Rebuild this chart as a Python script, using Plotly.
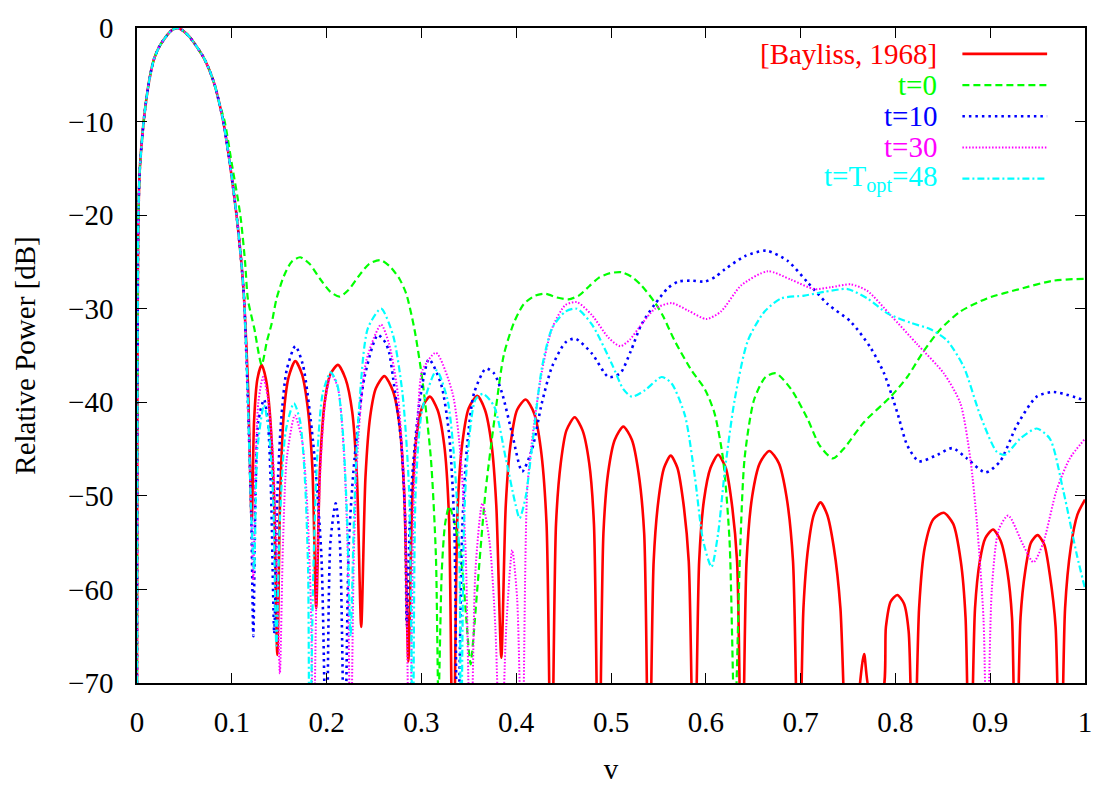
import plotly.graph_objects as go

# ---------------- data (v, relative power dB) ----------------
main_lobe = [(0.0, -70), (0.0004, -40), (0.001, -25), (0.0015, -20), (0.003, -15), (0.007, -10),
             (0.010, -7.5), (0.014, -5), (0.018, -3.3), (0.0235, -2), (0.030, -1), (0.036, -0.3),
             (0.042, 0), (0.048, -0.25), (0.055, -0.9), (0.063, -2), (0.070, -3.1), (0.076, -4.4),
             (0.082, -6.1), (0.087, -8.1)]

bayliss = [(0.091, -10), (0.098, -14.5), (0.105, -20), (0.110, -25), (0.113, -29), (0.117, -38),
           (0.121, -52.6), (0.1235, -42), (0.127, -37.5), (0.1315, -36), (0.136, -37.5), (0.140, -41),
           (0.1445, -50), (0.148, -67), (0.151, -50), (0.155, -41), (0.160, -37.3), (0.167, -35.6),
           (0.174, -37), (0.180, -40.5), (0.185, -47), (0.189, -62), (0.193, -47), (0.198, -40),
           (0.204, -37), (0.212, -36), (0.220, -37.5), (0.227, -41), (0.232, -48), (0.2365, -64),
           (0.241, -48), (0.246, -41.5), (0.252, -38.5), (0.261, -37.2), (0.270, -38.8), (0.277, -42.5),
           (0.282, -50), (0.2862, -67.7), (0.2905, -50), (0.295, -43.5), (0.301, -40.5), (0.309, -39.4),
           (0.317, -40.8), (0.324, -44.5), (0.329, -52), (0.3335, -85), (0.338, -52), (0.343, -44.5),
           (0.350, -40.6), (0.359, -39.3), (0.367, -40.8), (0.374, -44.5), (0.379, -51), (0.3843, -67.3),
           (0.389, -51), (0.394, -44.5), (0.401, -40.8), (0.410, -39.7), (0.419, -41.2), (0.426, -45),
           (0.432, -53), (0.437, -85), (0.442, -53), (0.447, -46.5), (0.453, -43), (0.4617, -41.6),
           (0.470, -43), (0.477, -46.5), (0.482, -53), (0.487, -85), (0.492, -54), (0.497, -47.5),
           (0.504, -44), (0.513, -42.6), (0.522, -44), (0.529, -47.5), (0.535, -54), (0.540, -85),
           (0.545, -57), (0.550, -50.5), (0.556, -47), (0.563, -45.7), (0.570, -47), (0.576, -50.5),
           (0.582, -57), (0.5877, -85), (0.593, -57), (0.598, -50.5), (0.605, -47), (0.613, -45.6),
           (0.621, -47), (0.627, -50.5), (0.633, -57), (0.638, -85), (0.643, -57), (0.649, -50),
           (0.657, -46.5), (0.667, -45.2), (0.677, -46.5), (0.685, -50), (0.692, -57), (0.698, -85),
           (0.703, -62), (0.708, -55.5), (0.714, -52), (0.721, -50.7), (0.728, -52), (0.735, -55.5),
           (0.742, -62), (0.751, -85), (0.7617, -71), (0.767, -66.9), (0.7733, -71), (0.786, -71),
           (0.790, -64), (0.795, -61.3), (0.802, -60.6), (0.809, -61.5), (0.814, -64.5), (0.819, -85),
           (0.825, -62), (0.831, -55.5), (0.840, -52.5), (0.851, -51.8), (0.861, -53), (0.869, -57),
           (0.874, -63), (0.8785, -85), (0.884, -62), (0.889, -57), (0.895, -54.5), (0.903, -53.6),
           (0.911, -54.8), (0.918, -58), (0.923, -63), (0.927, -85), (0.932, -63), (0.937, -58),
           (0.943, -55), (0.950, -54.2), (0.957, -55.2), (0.963, -58.5), (0.969, -64), (0.974, -85),
           (0.979, -62), (0.985, -55.5), (0.992, -52), (1.0, -50.4)]

t0 = [(0.0925, -10), (0.100, -14.5), (0.109, -20), (0.114, -25), (0.117, -29), (0.1237, -32.1),
      (0.1315, -36), (0.137, -33.5), (0.142, -31.6), (0.147, -29), (0.155, -26.5), (0.163, -25),
      (0.172, -24.5), (0.182, -25.2), (0.193, -26.8), (0.204, -28.2), (0.2137, -28.7), (0.223, -28),
      (0.234, -26.5), (0.245, -25.2), (0.2568, -24.8), (0.267, -25.5), (0.2768, -26.8), (0.284, -28.4),
      (0.2925, -32.1), (0.301, -37.6), (0.310, -46), (0.3153, -56.4), (0.318, -72), (0.3215, -58),
      (0.325, -53), (0.3293, -51.1), (0.334, -52.5), (0.3416, -56.4), (0.3503, -66.8), (0.352, -68),
      (0.355, -65), (0.359, -59.9), (0.3678, -49.4), (0.3784, -40.8), (0.387, -34.9), (0.3976, -31.5),
      (0.408, -29.5), (0.420, -28.6), (0.431, -28.4), (0.443, -28.8), (0.455, -29), (0.466, -28.6),
      (0.477, -27.6), (0.487, -26.7), (0.499, -26.2), (0.511, -26.1), (0.522, -26.6), (0.532, -27.5),
      (0.546, -29.3), (0.555, -30.8), (0.567, -33.4), (0.585, -36.6), (0.599, -38.6), (0.609, -41.1),
      (0.618, -45.9), (0.625, -54.7), (0.6305, -75), (0.636, -56.4), (0.641, -45.9), (0.651, -39.7),
      (0.663, -37.3), (0.674, -36.9), (0.690, -38.6), (0.7075, -41.8), (0.720, -44.6), (0.734, -46),
      (0.746, -44.9), (0.767, -42.1), (0.795, -39.4), (0.8125, -37.3), (0.830, -34.5), (0.8475, -32.2),
      (0.8685, -30.3), (0.8966, -28.9), (0.931, -27.9), (0.9666, -27.0), (1.0, -26.8)]

t10 = [(0.091, -10), (0.098, -14.5), (0.105, -20), (0.110, -25), (0.113, -29), (0.117, -40),
       (0.1205, -52), (0.1227, -65), (0.125, -50), (0.128, -42), (0.134, -39.7), (0.138, -42),
       (0.1415, -50), (0.1448, -64.7), (0.148, -50), (0.152, -42), (0.158, -36.5), (0.167, -34),
       (0.175, -36), (0.1857, -44.2), (0.1945, -56.4), (0.1998, -80), (0.204, -55), (0.2096, -50.8),
       (0.214, -55), (0.219, -80), (0.2235, -55), (0.2295, -46), (0.240, -37.3), (0.254, -32.8),
       (0.262, -33.6), (0.266, -34.7), (0.270, -37.3), (0.2786, -44.2), (0.283, -52.9), (0.2845, -63.9),
       (0.288, -52), (0.291, -47), (0.298, -40), (0.308, -35.4), (0.3206, -38), (0.329, -43.2),
       (0.3346, -52.9), (0.338, -80), (0.3433, -52.9), (0.3486, -44.2), (0.3556, -39), (0.368, -36.4),
       (0.3766, -36.9), (0.385, -39), (0.396, -43.5), (0.4063, -47.4), (0.4168, -45), (0.427, -40.1),
       (0.4378, -36.2), (0.452, -33.6), (0.4624, -33.2), (0.480, -34.8), (0.4974, -37.3), (0.5097, -36.9),
       (0.521, -34.5), (0.532, -31.7), (0.5464, -29.5), (0.560, -27.8), (0.571, -27.1), (0.585, -27),
       (0.599, -27.1), (0.610, -26.6), (0.620, -25.8), (0.641, -24.4), (0.6637, -23.8), (0.6865, -24.9),
       (0.7075, -27.2), (0.7285, -29.5), (0.753, -31.4), (0.774, -34.2), (0.788, -36.9), (0.802, -41.1),
       (0.8125, -44.6), (0.8248, -46.3), (0.8445, -45.6), (0.860, -44.9), (0.8755, -46), (0.895, -47.5),
       (0.9105, -46.3), (0.928, -42.5), (0.949, -39.4), (0.9666, -38.9), (1.0, -39.8)]

t30 = [(0.091, -10), (0.098, -14.5), (0.105, -20), (0.110, -25), (0.113, -29), (0.117, -40),
       (0.1205, -52), (0.1227, -59), (0.125, -47), (0.128, -40), (0.133, -37.3), (0.138, -39.5),
       (0.143, -45), (0.147, -55), (0.1507, -69), (0.154, -55), (0.158, -46), (0.1665, -41.4),
       (0.174, -44), (0.179, -50), (0.1835, -62), (0.186, -80), (0.189, -62), (0.194, -46),
       (0.199, -39.5), (0.205, -37), (0.212, -38.5), (0.218, -45), (0.222, -55), (0.2253, -80),
       (0.229, -55), (0.234, -43), (0.242, -35.5), (0.2575, -31.7), (0.266, -33.8), (0.275, -39),
       (0.282, -49.4), (0.2875, -80), (0.292, -50), (0.2965, -41), (0.301, -36.6), (0.3153, -34.7),
       (0.3328, -39), (0.3416, -46), (0.3468, -56.4), (0.352, -80), (0.357, -58), (0.3643, -50.8),
       (0.372, -55), (0.378, -64), (0.3836, -80), (0.3895, -64), (0.3958, -55.8), (0.401, -61),
       (0.4063, -80), (0.4116, -49.4), (0.4186, -42.5), (0.4273, -36.6), (0.4378, -32.1), (0.452, -29.6),
       (0.464, -29.3), (0.480, -30.7), (0.4974, -33.1), (0.5097, -34.0), (0.520, -33.3), (0.529, -32.1),
       (0.5464, -30.0), (0.564, -29.4), (0.5814, -30.2), (0.6006, -31.1), (0.616, -30.3), (0.6374, -27.5),
       (0.6654, -26.0), (0.690, -26.9), (0.7145, -27.9), (0.732, -27.7), (0.753, -27.4), (0.7705, -28.1),
       (0.795, -30.7), (0.823, -33.8), (0.851, -36.9), (0.8685, -40.1), (0.879, -46), (0.886, -52.9),
       (0.893, -63.3), (0.8966, -80), (0.9017, -60), (0.909, -53.6), (0.919, -52.1), (0.935, -55.3),
       (0.9456, -57.1), (0.956, -55), (0.970, -49.4), (0.984, -46), (1.0, -43.9)]

t48 = [(0.091, -10), (0.098, -14.5), (0.105, -20), (0.110, -25), (0.113, -29), (0.117, -40),
       (0.1205, -52), (0.1235, -58), (0.127, -45), (0.134, -40.3), (0.139, -43), (0.1435, -50),
       (0.147, -66), (0.151, -52), (0.157, -43), (0.1655, -40.1), (0.172, -42), (0.177, -48),
       (0.1805, -58), (0.182, -80), (0.186, -58), (0.190, -46), (0.196, -39), (0.2043, -36.8),
       (0.211, -38), (0.217, -43), (0.2215, -52), (0.2253, -65), (0.229, -52), (0.234, -41),
       (0.2435, -32.1), (0.2575, -30.0), (0.270, -32.8), (0.280, -39), (0.287, -49.4), (0.291, -80),
       (0.294, -49.4), (0.301, -40.7), (0.316, -36.6), (0.3275, -39.7), (0.3346, -46), (0.340, -56.4),
       (0.3416, -80), (0.345, -52.9), (0.3486, -45.9), (0.357, -39.7), (0.365, -39.1), (0.3766, -40.4),
       (0.389, -46), (0.399, -50.8), (0.4036, -52.4), (0.410, -50.1), (0.417, -44.5), (0.4273, -36.2),
       (0.4378, -32.1), (0.452, -30.3), (0.464, -30), (0.480, -31.7), (0.5009, -35.9), (0.513, -38.6),
       (0.522, -39.4), (0.536, -38.7), (0.5534, -37.3), (0.564, -38), (0.578, -41.4), (0.5885, -48.0),
       (0.597, -54.7), (0.606, -57.6), (0.613, -54), (0.620, -47.4), (0.6305, -39.7), (0.6444, -33.4),
       (0.662, -30.3), (0.6794, -28.9), (0.704, -28.6), (0.725, -28.2), (0.7495, -27.9), (0.7705, -28.9),
       (0.7915, -30.5), (0.816, -31.5), (0.837, -32.2), (0.8545, -33.4), (0.872, -36.2), (0.8895, -41.4),
       (0.907, -45.3), (0.9158, -45.6), (0.9315, -43.9), (0.949, -42.8), (0.963, -43.9), (0.977, -49.4),
       (0.9916, -56.4), (1.0, -59.9)]

series_names = ["[Bayliss, 1968]", "t=0", "t=10", "t=30", "t=T<sub>opt</sub>=48"]
series_tails = [bayliss, t0, t10, t30, t48]
x_ticks = [0, 0.1, 0.2, 0.3, 0.4, 0.5, 0.6, 0.7, 0.8, 0.9, 1.0]
x_tick_text = ["0", "0.1", "0.2", "0.3", "0.4", "0.5", "0.6", "0.7", "0.8", "0.9", "1"]
y_ticks = [0, -10, -20, -30, -40, -50, -60, -70]

# ---------------- styling ----------------
colors = ["#ff0000", "#00ff00", "#0000ff", "#ff00ff", "#00ffff"]
dashes = ["solid", "7px,4px", "2.5px,4px", "1.5px,1.8px", "7px,3px,2px,3px"]
widths = [2.6, 2.2, 2.6, 2.0, 2.2]
FONT = "Liberation Serif"

fig = go.Figure()
for name, tail, col, dash, w in zip(series_names, series_tails, colors, dashes, widths):
    pts = main_lobe + tail
    fig.add_trace(go.Scatter(
        x=[p[0] for p in pts], y=[p[1] for p in pts], mode="lines", name=name,
        line=dict(color=col, dash=dash, width=w, shape="spline", smoothing=0.7),
        showlegend=False, hoverinfo="skip"))

# legend (gnuplot style: right-aligned coloured text, sample line on the right)
row_y = [49, 81, 113, 145, 177]
plot_top, plot_h = 22.5, 671.5
plot_left, plot_w = 137.0, 951.0
for name, col, dash, w, py in zip(series_names, colors, dashes, widths, row_y):
    yp = 1 - (py - plot_top) / plot_h
    fig.add_annotation(x=(942 - plot_left) / plot_w, y=yp, xref="paper", yref="paper",
                       text=name, showarrow=False, xanchor="right", yanchor="middle",
                       font=dict(family=FONT, size=29, color=col))
    fig.add_shape(type="line", xref="paper", yref="paper",
                  x0=(965 - plot_left) / plot_w, x1=(1050 - plot_left) / plot_w, y0=yp, y1=yp,
                  line=dict(color=col, dash=dash, width=w))

axis_common = dict(showline=True, linecolor="black", linewidth=1.6, mirror="ticks",
                   ticks="inside", ticklen=10, tickwidth=1.4, tickcolor="black",
                   showgrid=False, zeroline=False,
                   tickfont=dict(family=FONT, size=29, color="black"))

fig.update_layout(
    width=1104, height=792,
    margin=dict(l=137, r=16, t=22, b=98),
    paper_bgcolor="white", plot_bgcolor="white",
    font=dict(family=FONT, size=29, color="black"),
    xaxis=dict(range=[0, 1], tickvals=x_ticks, ticktext=x_tick_text,
               title=dict(text="v", font=dict(family=FONT, size=29, color="black"), standoff=22),
               ticklabelstandoff=12, **axis_common),
    yaxis=dict(range=[-70, 0], tickvals=y_ticks,
               title=dict(text="Relative Power [dB]", font=dict(family=FONT, size=29, color="black"),
                          standoff=24),
               ticklabelstandoff=16, **axis_common),
)

fig.write_html("out.html")
